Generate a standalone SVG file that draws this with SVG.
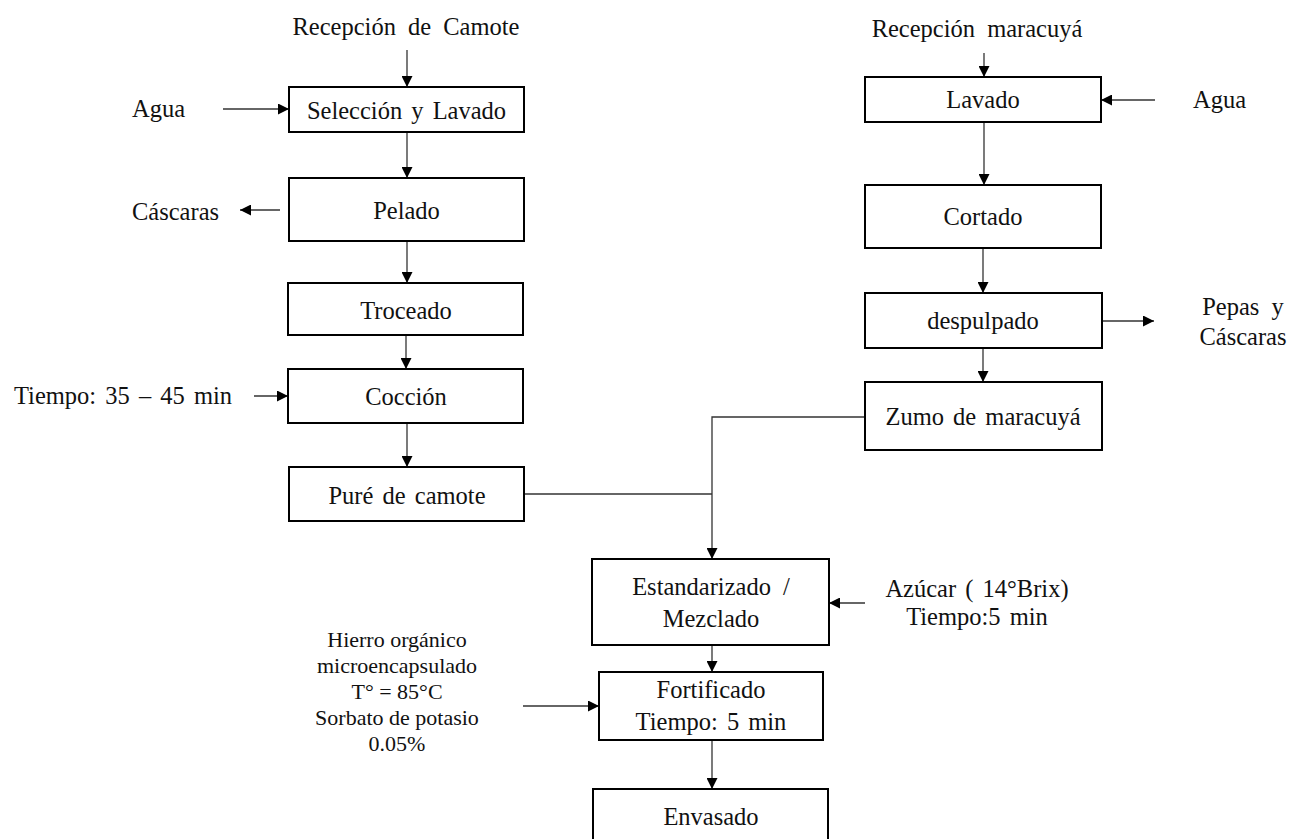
<svg xmlns="http://www.w3.org/2000/svg" width="1291" height="839" viewBox="0 0 1291 839">
<style>
  .box { fill: #fff; stroke: #000; stroke-width: 2; }
  .t { font-family: "Liberation Serif", "Times New Roman", serif; font-size: 24.5px; fill: #111; word-spacing: 3px; }
  .w { word-spacing: 6px; }
  .m { text-anchor: middle; }
  .s { font-size: 22px; word-spacing: 0; }
  .c { fill: none; stroke: #333; stroke-width: 1.3; }
  .a { marker-end: url(#arr); }
</style>
<defs>
  <marker id="arr" markerUnits="userSpaceOnUse" markerWidth="11" markerHeight="11" refX="10" refY="5" orient="auto" viewBox="0 0 10 10">
    <path d="M0,0 L10,5 L0,10 z" fill="#000"/>
  </marker>
</defs>
<rect width="1291" height="839" fill="#fff"/>

<g id="connectors">
  <path class="c a" d="M407,50 V87"/>
  <path class="c a" d="M223,109 H289"/>
  <path class="c a" d="M407,132 V178"/>
  <path class="c a" d="M280,210 H240"/>
  <path class="c a" d="M407,241 V283"/>
  <path class="c a" d="M406,335 V369"/>
  <path class="c a" d="M254,396 H288"/>
  <path class="c a" d="M407,423 V467"/>
  <path class="c" d="M524,494 H712"/>
  <path class="c a" d="M865,417 H712 V559"/>
  <path class="c a" d="M984,53 V77"/>
  <path class="c a" d="M1155,100 H1101"/>
  <path class="c a" d="M984,122 V185"/>
  <path class="c a" d="M983,248 V293"/>
  <path class="c a" d="M1102,321 H1154"/>
  <path class="c a" d="M983,348 V382"/>
  <path class="c a" d="M865,603 H829"/>
  <path class="c a" d="M712,645 V672"/>
  <path class="c a" d="M523,706 H599"/>
  <path class="c a" d="M712,740 V789"/>
</g>

<g id="recepcion-camote"><text class="t w m" x="406" y="35">Recepción de Camote</text></g>
<g id="agua-izq"><text class="t" x="132" y="117">Agua</text></g>
<g id="seleccion"><rect class="box" x="289" y="87" width="235" height="45"/><text class="t m" x="406.5" y="119">Selección y Lavado</text></g>
<g id="cascaras"><text class="t" x="132" y="220">Cáscaras</text></g>
<g id="pelado"><rect class="box" x="289" y="178" width="235" height="63"/><text class="t m" x="406.5" y="219">Pelado</text></g>
<g id="troceado"><rect class="box" x="288" y="283" width="235" height="52"/><text class="t m" x="406" y="319">Troceado</text></g>
<g id="tiempo-coccion"><text class="t" x="14" y="404">Tiempo: 35 – 45 min</text></g>
<g id="coccion"><rect class="box" x="288" y="369" width="235" height="54"/><text class="t m" x="406" y="405">Cocción</text></g>
<g id="pure"><rect class="box" x="289" y="467" width="235" height="54"/><text class="t m" x="407" y="504">Puré de camote</text></g>

<g id="recepcion-maracuya"><text class="t w m" x="977" y="37">Recepción maracuyá</text></g>
<g id="lavado"><rect class="box" x="865" y="77" width="236" height="45"/><text class="t m" x="983" y="108">Lavado</text></g>
<g id="agua-der"><text class="t" x="1193" y="108">Agua</text></g>
<g id="cortado"><rect class="box" x="865" y="185" width="236" height="63"/><text class="t m" x="983" y="225">Cortado</text></g>
<g id="despulpado"><rect class="box" x="865" y="293" width="237" height="55"/><text class="t m" x="983" y="329">despulpado</text></g>
<g id="pepas"><text class="t w m" x="1243" y="315">Pepas y</text><text class="t m" x="1243" y="345">Cáscaras</text></g>
<g id="zumo"><rect class="box" x="865" y="382" width="237" height="68"/><text class="t m" x="983" y="425">Zumo de maracuyá</text></g>

<g id="estandarizado"><rect class="box" x="592" y="559" width="237" height="86"/><text class="t w m" x="711" y="595">Estandarizado /</text><text class="t m" x="711" y="627">Mezclado</text></g>
<g id="azucar"><text class="t m" x="977" y="597">Azúcar ( 14°Brix)</text><text class="t m" x="977" y="625">Tiempo:5 min</text></g>
<g id="hierro">
  <text class="t s m" x="397" y="647">Hierro orgánico</text>
  <text class="t s m" x="397" y="673">microencapsulado</text>
  <text class="t s m" x="397" y="699">T° = 85°C</text>
  <text class="t s m" x="397" y="725">Sorbato de potasio</text>
  <text class="t s m" x="397" y="751">0.05%</text>
</g>
<g id="fortificado"><rect class="box" x="599" y="672" width="224" height="68"/><text class="t m" x="711" y="698">Fortificado</text><text class="t m" x="711" y="730">Tiempo: 5 min</text></g>
<g id="envasado"><rect class="box" x="593" y="789" width="235" height="62"/><text class="t m" x="711" y="825">Envasado</text></g>
</svg>
